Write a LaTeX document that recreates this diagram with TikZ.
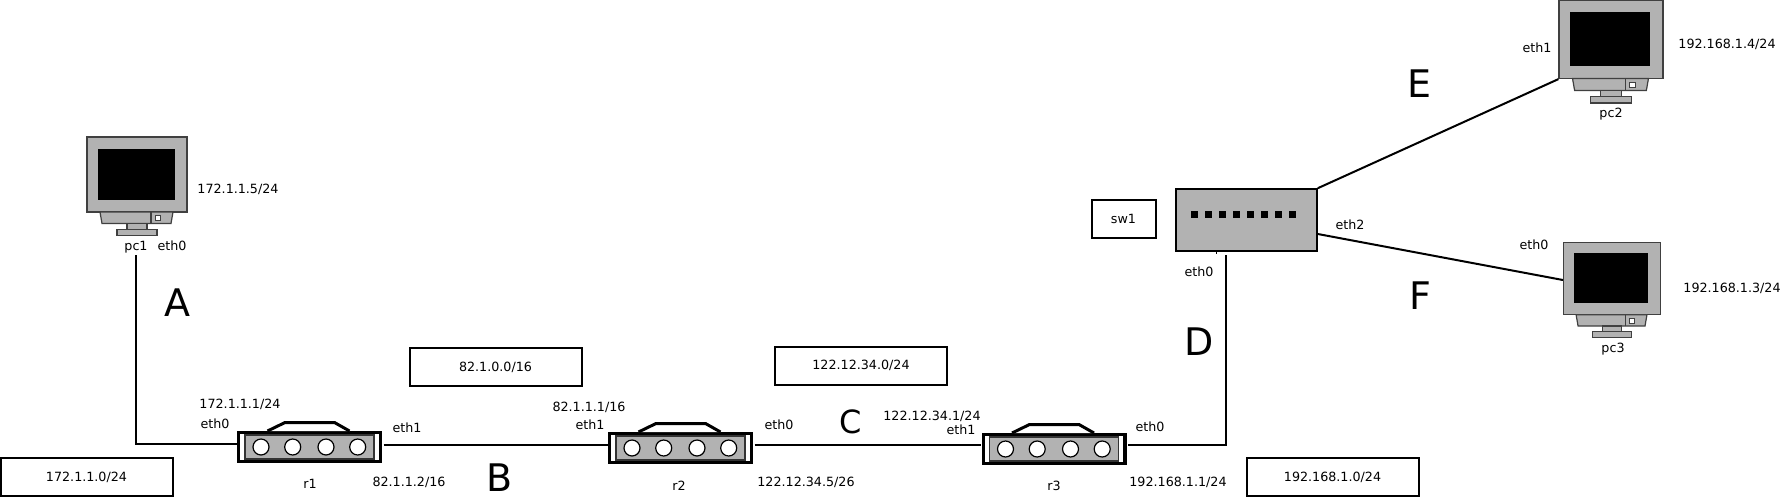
\documentclass[tikz,border=0pt]{standalone}
\usepackage{fontspec}
\setmainfont{DejaVu Sans}

\begin{document}
\begin{tikzpicture}[
  x=0.5pt,
  y=-0.5pt,
  every node/.style={
    font=\fontsize{6.35}{8}\selectfont,
    inner sep=1pt,
  },
  wire/.style={
    draw,
    line width=1pt,
  },
  netbox/.style={
    draw,
    line width=1pt,
    minimum width=86pt,
    minimum height=19pt,
  },
  tag/.style={
    font=\fontsize{19}{24}\selectfont,
  },
  pics/pcbox/.style={
    code={
      % Case and screen
      \node[draw=black!75,fill=black!30,line width=0.6pt,minimum width=50pt,minimum height=37.5pt,inner sep=0pt] (-case) at (0,0) {};
      \fill[black] (-39.5,-26) rectangle (37.5,25);
      % Base and foot
      \draw[black!75,fill=black!30,line width=0.6pt] (-37,37.5) -- (36,37.5) -- (34,49) -- (-35,49) -- cycle;
      \draw[black!75,line width=0.6pt] (14,37.5) -- (14,49);
      \draw[black!75,fill=white,line width=0.4pt] (18,41) rectangle (23,46);
      \draw[black!75,fill=black!30,line width=0.6pt] (-10,49) rectangle (10,55);
      \draw[black!75,fill=black!30,line width=0.6pt] (-20,55) rectangle (20,61);
    }
  },
  pics/routerbox/.style={
    code={
      % Outer frame with bump
      \node[draw,line width=1.7pt,minimum width=70.8pt,minimum height=14.5pt,inner sep=0pt] (-frame) at (0,0) {};
      \draw[line width=1.5pt,fill=white] (-42,-16) -- (-24.5,-24.5) -- (25,-24.5) -- (40,-16);
      \node[draw=black!80,fill=black!30,line width=0.7pt,minimum width=64.5pt,minimum height=12pt,inner sep=0pt] (-panel) at (0,0) {};
      \foreach \portx in {-48.5,-16.8,16.5,48.2} {
        \draw[fill=white,line width=0.6pt] (\portx,0) circle (4pt);
      }
      \coordinate (-west) at (-73,-3);
      \coordinate (-east) at (74,-2);
    }
  },
]

\useasboundingbox (0,0) rectangle (1787,499);

% Hosts
\pic (pc1) at (137,174.5) {pcbox};
\pic[scale=1.04,transform shape] (pc2) at (1611,39.5) {pcbox};
\pic[scale=0.97,transform shape] (pc3) at (1612,278.5) {pcbox};

% Routers
\pic (r1) at (309.5,447) {routerbox};
\pic (r2) at (680.5,448) {routerbox};
\pic (r3) at (1054,449) {routerbox};

% Switch
\node[draw,fill=black!30,line width=0.8pt,minimum width=70.5pt,minimum height=31pt,inner sep=0pt] (sw) at (1246.5,220) {};
\foreach \dotx in {0,...,7} {
  \fill[black] (1190.5+14.1*\dotx,210.5) rectangle +(7,7);
}
\draw[line width=0.4pt] (1216,251) -- (1216,254);
\coordinate (swport) at (1226,255);

% Network boxes
\node[netbox] (net1) at (86.5,477) {172.1.1.0/24};
\node[netbox] (net2) at (495.5,367) {82.1.0.0/16};
\node[netbox] (net3) at (861,365.5) {122.12.34.0/24};
\node[netbox] (net4) at (1332.5,477) {192.168.1.0/24};
\node[netbox,minimum width=32pt] (swname) at (1123.5,219) {sw1};

% Names
\node (pc1name) at (136,247) {pc1};
\node (pc2name) at (1611,114) {pc2};
\node (pc3name) at (1613,349) {pc3};
\node (r1name) at (310,484) {r1};
\node (r2name) at (679,486) {r2};
\node (r3name) at (1054,486) {r3};

% Interfaces
\node (pc1eth0) at (172,246) {eth0};
\node (r1eth0) at (215,424) {eth0};
\node (r1eth1) at (407,428) {eth1};
\node (r2eth1) at (590,425) {eth1};
\node (r2eth0) at (779,425) {eth0};
\node (r3eth1) at (961,430) {eth1};
\node (r3eth0) at (1150,427) {eth0};
\node (sweth0) at (1199,272) {eth0};
\node (sweth2) at (1350,225) {eth2};
\node (pc2eth1) at (1537,48) {eth1};
\node (pc3eth0) at (1534,245) {eth0};

% Addresses
\node (pc1addr) at (238,189) {172.1.1.5/24};
\node (r1addr0) at (240,404.5) {172.1.1.1/24};
\node (r1addr1) at (409,482) {82.1.1.2/16};
\node (r2addr1) at (589,407) {82.1.1.1/16};
\node (r2addr0) at (806,482) {122.12.34.5/26};
\node (r3addr1) at (932,416) {122.12.34.1/24};
\node (r3addr0) at (1178,482) {192.168.1.1/24};
\node (pc2addr) at (1727,44) {192.168.1.4/24};
\node (pc3addr) at (1732,288) {192.168.1.3/24};

% Segment letters
\node[tag] (tagA) at (177,303) {A};
\node[tag] (tagB) at (500,478) {B};
\node[tag,font=\fontsize{16}{20}\selectfont] (tagC) at (851,422) {C};
\node[tag] (tagD) at (1199,342) {D};
\node[tag] (tagE) at (1419,84) {E};
\node[tag] (tagF) at (1420,296) {F};

% Links
\draw[wire] (pc1name.south) |- (r1-west);
\draw[wire] (r1-east) -- (r2-west |- r1-east);
\draw[wire] (r2-east |- r1-east) -- (r3-west |- r1-east);
\draw[wire] (r3-east |- r1-east) -| (swport);
\draw[wire] (sw.north east) -- (pc2-case.south west);
\draw[wire] (sw.east |- 0,234) -- (pc3-case.west |- 0,280);

\end{tikzpicture}
\end{document}
